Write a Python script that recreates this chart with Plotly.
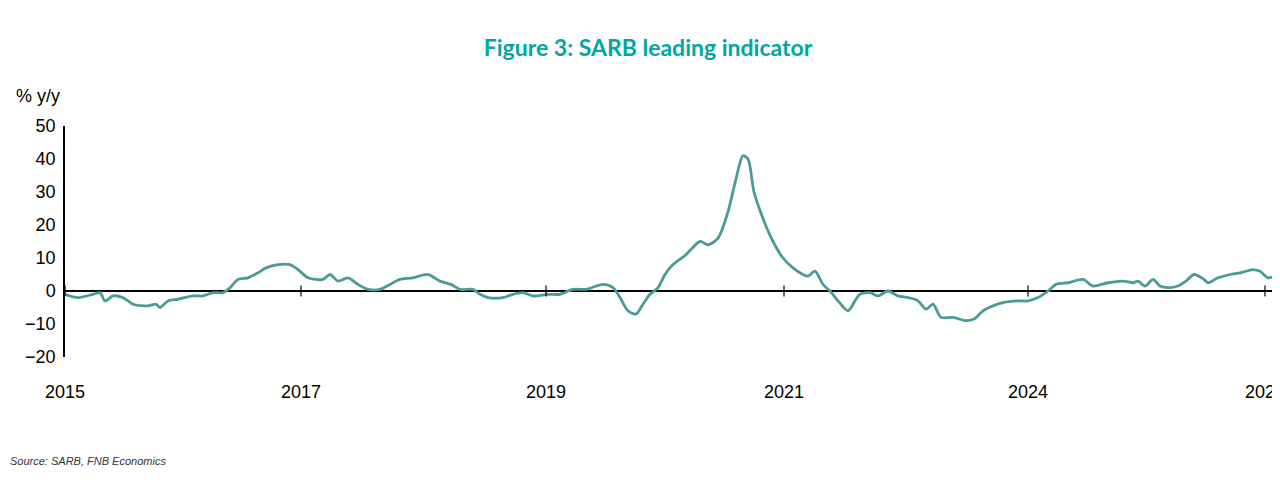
import plotly.graph_objects as go

# horizontal position (chart units) and value (% y/y)
period = [57,70,85,92,97,105,115,125,140,148,152,160,170,185,195,205,215,222,230,240,250,258,270,282,290,300,315,322,330,340,350,360,372,382,392,405,420,432,443,452,465,472,480,495,505,515,525,540,552,565,578,595,605,612,620,628,635,642,650,657,665,678,692,700,710,720,728,735,740,746,755,765,775,785,795,800,807,815,822,830,840,847,852,862,870,880,890,900,910,918,925,933,945,958,966,975,985,995,1010,1020,1030,1040,1048,1060,1075,1085,1100,1115,1125,1130,1137,1145,1152,1160,1170,1178,1186,1196,1200,1210,1222,1232,1245,1252,1260,1270]
values = [-1,-2,-1,-0.5,-3,-1.5,-2,-4,-4.5,-4,-5,-3,-2.5,-1.5,-1.5,-0.5,-0.5,1,3.5,4,5.5,7,8,8,6.5,4,3.5,5,3,4,2,0.5,0.5,2,3.5,4,5,3,2,0.5,0.5,-1,-2,-2,-1,-0.5,-1.5,-1,-1,0.5,0.5,2,1,-2,-6,-7,-4,-1,1,5,8,11,15,14,16,24,34,41,40,30,22,15,10,7,5,4.5,6,2,0,-3,-6,-3,-1,-0.5,-1.5,0,-1.5,-2,-3,-5.5,-4,-8,-8,-9,-8.5,-6,-4.5,-3.5,-3,-3,-2,0,2,2.5,3.5,1.5,2.5,3,2.5,3,1.5,3.5,1.5,1,1.5,3,5,3.5,2.5,4,5,5.5,6.5,6,4,5]
tick_pos = [57,293,538,776,1020,1257]
tick_text = ["2015","2017","2019","2021","2024","2026"]
y_ticks = [-20,-10,0,10,20,30,40,50]

fig = go.Figure(go.Scatter(x=period, y=values, mode="lines",
    line=dict(color="#4a9a96", width=2.8, shape="spline", smoothing=0.8)))

fig.update_layout(
    width=1280, height=489, plot_bgcolor="white", paper_bgcolor="white",
    margin=dict(l=57, r=8, t=118, b=140, autoexpand=False),
    showlegend=False,
    font=dict(family="Liberation Sans, Arial", size=18, color="black"),
    title=dict(text="<b>Figure 3: SARB leading indicator</b>", x=0.5, xanchor="center",
               y=0.935, font=dict(family="Lato, Open Sans", size=23, color="#00a6a6")),
    annotations=[
        dict(text="% y/y", xref="paper", yref="paper", x=-0.042, y=1.08, xanchor="left",
             yanchor="bottom", showarrow=False, font=dict(size=18)),
        dict(text="<i>Source: SARB, FNB Economics</i>", xref="paper", yref="paper", x=-0.047,
             y=-0.45, xanchor="left", yanchor="middle", showarrow=False,
             font=dict(size=11, color="#333")),
    ],
)
fig.update_xaxes(range=[57, 1272], tickvals=tick_pos, ticktext=tick_text, showgrid=False,
                 zeroline=False, showline=False, ticks="", ticklabelstandoff=22, automargin=False)
fig.update_yaxes(range=[-20, 50], tickvals=y_ticks, showgrid=False, zeroline=True,
                 zerolinecolor="black", zerolinewidth=1.5, showline=True, linecolor="black",
                 linewidth=1.5, ticks="", ticklabelstandoff=4, automargin=False)
fig.add_trace(go.Scatter(x=tick_pos, y=[0]*len(tick_pos), mode="markers",
    marker=dict(symbol="line-ns", size=8, line=dict(color="black", width=1.2)),
    hoverinfo="skip"))
fig.write_html("out.html")
